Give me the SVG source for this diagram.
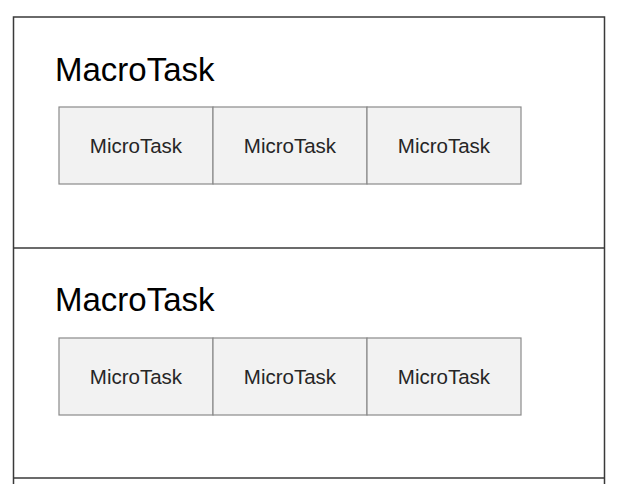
<svg xmlns="http://www.w3.org/2000/svg" width="619" height="484" viewBox="0 0 619 484">
  <style>
    .frame { fill: none; stroke: #3a3a3a; stroke-width: 1.5; }
    .micro rect { fill: #f2f2f2; stroke: #8a8a8a; stroke-width: 1.2; }
    .micro text { font-family: "Liberation Sans", Arial, sans-serif; font-size: 20.5px; fill: #262626; text-anchor: middle; }
    .macro-label { font-family: "Liberation Sans", Arial, sans-serif; font-size: 33px; fill: #000; }
  </style>
  <rect width="619" height="484" fill="#ffffff"/>

  <!-- outer frame: open at the bottom, continues past the last row -->
  <g id="frame" class="frame">
    <path d="M13.5 484 V17 H604.5 V484"/>
    <line x1="13.5" y1="248" x2="604.5" y2="248"/>
    <line x1="13.5" y1="478" x2="604.5" y2="478"/>
  </g>

  <!-- first macrotask -->
  <g id="macro-1">
    <text class="macro-label" x="55" y="81">MacroTask</text>
    <g id="micro-1-1" class="micro">
      <rect x="59" y="107" width="154" height="77"/>
      <text x="136" y="153">MicroTask</text>
    </g>
    <g id="micro-1-2" class="micro">
      <rect x="213" y="107" width="154" height="77"/>
      <text x="290" y="153">MicroTask</text>
    </g>
    <g id="micro-1-3" class="micro">
      <rect x="367" y="107" width="154" height="77"/>
      <text x="444" y="153">MicroTask</text>
    </g>
  </g>

  <!-- second macrotask -->
  <g id="macro-2">
    <text class="macro-label" x="55" y="311">MacroTask</text>
    <g id="micro-2-1" class="micro">
      <rect x="59" y="338" width="154" height="77"/>
      <text x="136" y="384">MicroTask</text>
    </g>
    <g id="micro-2-2" class="micro">
      <rect x="213" y="338" width="154" height="77"/>
      <text x="290" y="384">MicroTask</text>
    </g>
    <g id="micro-2-3" class="micro">
      <rect x="367" y="338" width="154" height="77"/>
      <text x="444" y="384">MicroTask</text>
    </g>
  </g>
</svg>
